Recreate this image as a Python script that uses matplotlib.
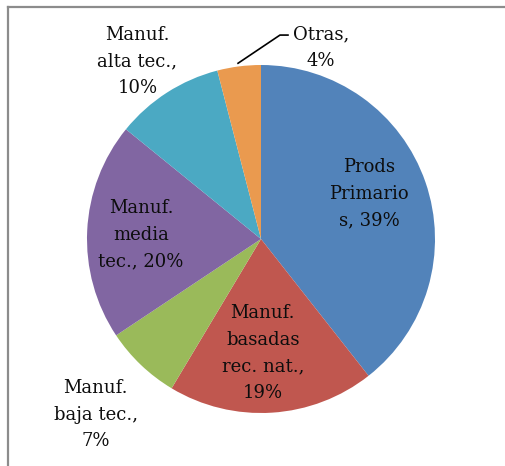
import matplotlib
matplotlib.use('Agg')
import matplotlib.pyplot as plt
from matplotlib.lines import Line2D

# slices, clockwise from 12 o'clock
labels = ['Prods\nPrimario\ns, 39%', 'Manuf.\nbasadas\nrec. nat.,\n19%', 'Manuf.\nbaja tec.,\n7%',
          'Manuf.\nmedia\ntec., 20%', 'Manuf.\nalta tec.,\n10%', 'Otras,\n4%']
values = [39, 19, 7, 20, 10, 4]
colors = ['#5283BA', '#C0574F', '#9ABA5A', '#8166A2', '#4BA9C3', '#EA9A4F']
# label centres in pie units (radius = 1)
label_pos = [(0.62, 0.26), (0.01, -0.655), (-0.95, -1.01), (-0.69, 0.025), (-0.71, 1.02), (0.345, 1.10)]

W, H = 505, 466
fig = plt.figure(figsize=(W / 100, H / 100), dpi=100)
fig.patch.set_facecolor('white')

cx, cy, r = 261, H - 239, 174
ax = fig.add_axes([(cx - r) / W, (cy - r) / H, 2 * r / W, 2 * r / H])
ax.pie(values, colors=colors, startangle=90, counterclock=False, radius=1,
       wedgeprops={'linewidth': 0})
ax.set_xlim(-1, 1)
ax.set_ylim(-1, 1)
ax.set_aspect('equal')
ax.axis('off')

for lab, (x, y) in zip(labels, label_pos):
    ax.text(x, y, lab, ha='center', va='center', fontsize=13, family='DejaVu Serif',
            color='#0d0d0d', linespacing=1.6, clip_on=False)

# leader line for "Otras"
ax.plot([-0.132, 0.109, 0.155], [1.01, 1.172, 1.172], color='black', lw=1.2, clip_on=False)

# chart frame (only top and left edges are visible)
fx, fy = 7.5 / W, 1 - 7 / H
fig.add_artist(Line2D([fx, 1], [fy, fy], transform=fig.transFigure, color='#8c8c8c', lw=1.6))
fig.add_artist(Line2D([fx, fx], [0, fy], transform=fig.transFigure, color='#8c8c8c', lw=1.6))

plt.savefig('out.png', dpi=100)
